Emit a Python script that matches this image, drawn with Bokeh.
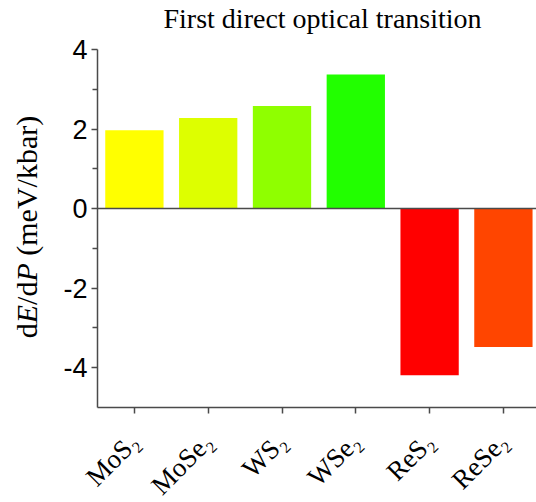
from math import pi
from bokeh.plotting import figure
from bokeh.models import Range1d, FixedTicker, Label, LinearAxis
from bokeh.embed import file_html
from bokeh.resources import INLINE

# ---- data ----
materials = ["MoS₂", "MoSe₂", "WS₂", "WSe₂", "ReS₂", "ReSe₂"]
dEdP = [1.97, 2.28, 2.58, 3.37, -4.19, -3.48]
bar_colors = ["#FFFF00", "#DDFF00", "#8FFF00", "#22FF00", "#FF0000", "#FF4500"]
y_major_ticks = [-4, -2, 0, 2, 4]
y_minor_ticks = [-3, -1, 1, 3]
y_tick_labels = ["-4", "-2", "0", "2", "4"]
title_text = "First direct optical transition"

xpos = list(range(len(materials)))

# ---- layout geometry (canvas pixels) ----
W, H = 536, 502
AX_X0, AX_X1 = -0.5, 5.4485        # plotted x extent
AX_Y0, AX_Y1 = -5, 4               # plotted y extent
PX_LEFT, PX_TOP, PX_BOTTOM = 97, 49, 407
sx = (W - PX_LEFT) / (AX_X1 - AX_X0)
sy = (PX_BOTTOM - PX_TOP) / (AX_Y1 - AX_Y0)
XL = AX_X0 - PX_LEFT / sx
XR = AX_X1
YT = AX_Y1 + PX_TOP / sy
YB = AX_Y1 - (H - PX_TOP) / sy


def dx(px):
    return XL + px / sx


def dy(py):
    return YT - py / sy


p = figure(width=W, height=H, output_backend="svg", toolbar_location=None,
           x_range=Range1d(XL, XR), y_range=Range1d(YB, YT),
           min_border_left=0, min_border_right=0, min_border_top=0, min_border_bottom=0)
p.title.visible = False
p.outline_line_color = None
p.xgrid.visible = False
p.ygrid.visible = False
p.background_fill_color = "white"
p.border_fill_color = "white"

p.vbar(x=xpos, top=dEdP, bottom=0, width=0.79, fill_color=bar_colors, line_color=None)

axis_col = "#4a4a4a"

# x axis (bottom of plot area)
xa = p.xaxis[0]
xa.fixed_location = AX_Y0
xa.bounds = (AX_X0, AX_X1)
xa.ticker = FixedTicker(ticks=xpos, minor_ticks=[])
xa.major_label_overrides = {i: m for i, m in zip(xpos, materials)}
xa.major_label_orientation = pi / 4
xa.major_label_text_font = "Liberation Serif"
xa.major_label_text_font_size = "27px"
xa.major_label_text_color = "black"
xa.major_label_standoff = 24
xa.axis_line_color = axis_col
xa.axis_line_width = 1.5
xa.major_tick_line_color = axis_col
xa.major_tick_line_width = 1.5
xa.major_tick_out = 6
xa.major_tick_in = 0
xa.minor_tick_line_color = None

# zero line as a bare axis at y = 0
zero_axis = LinearAxis(fixed_location=0, bounds=(AX_X0, AX_X1),
                       ticker=FixedTicker(ticks=[], minor_ticks=[]),
                       axis_line_color=axis_col, axis_line_width=1.5,
                       major_tick_line_color=None, minor_tick_line_color=None,
                       major_label_text_color=None)
p.add_layout(zero_axis, "below")

# y axis
ya = p.yaxis[0]
ya.fixed_location = AX_X0
ya.bounds = (AX_Y0, AX_Y1)
ya.ticker = FixedTicker(ticks=y_major_ticks, minor_ticks=y_minor_ticks)
ya.major_label_overrides = {t: s for t, s in zip(y_major_ticks, y_tick_labels)}
ya.major_label_text_font = "Liberation Sans"
ya.major_label_text_font_size = "27px"
ya.major_label_text_color = "black"
ya.major_label_standoff = 4
ya.axis_line_color = axis_col
ya.axis_line_width = 1.5
ya.major_tick_line_color = axis_col
ya.major_tick_line_width = 1.5
ya.major_tick_out = 6
ya.major_tick_in = 0
ya.minor_tick_line_color = axis_col
ya.minor_tick_line_width = 1.5
ya.minor_tick_out = 5
ya.minor_tick_in = 0

# title
p.add_layout(Label(x=dx(163), y=dy(18), text=title_text, text_font="Liberation Serif",
                   text_font_size="28px", text_color="black",
                   text_align="left", text_baseline="alphabetic"))

# y axis label (E and P italic); (text, style, advance in em incl. trailing gap)
fs = 30
pieces = [("d", "normal", 0.500), ("E", "italic", 0.611), ("/d", "normal", 0.778),
          ("P", "italic", 0.611 + 0.250), ("(meV/kbar)", "normal", 4.665)]
total = sum(w for _, _, w in pieces) * fs
cur = 226.5 + total / 2
for txt, style, w in pieces:
    p.add_layout(Label(x=dx(26), y=dy(cur), text=txt, angle=pi / 2,
                       text_font="Liberation Serif", text_font_size=f"{fs}px",
                       text_font_style=style, text_color="black",
                       text_align="left", text_baseline="middle"))
    cur -= w * fs

open("out.html", "w").write(file_html(p, INLINE))
